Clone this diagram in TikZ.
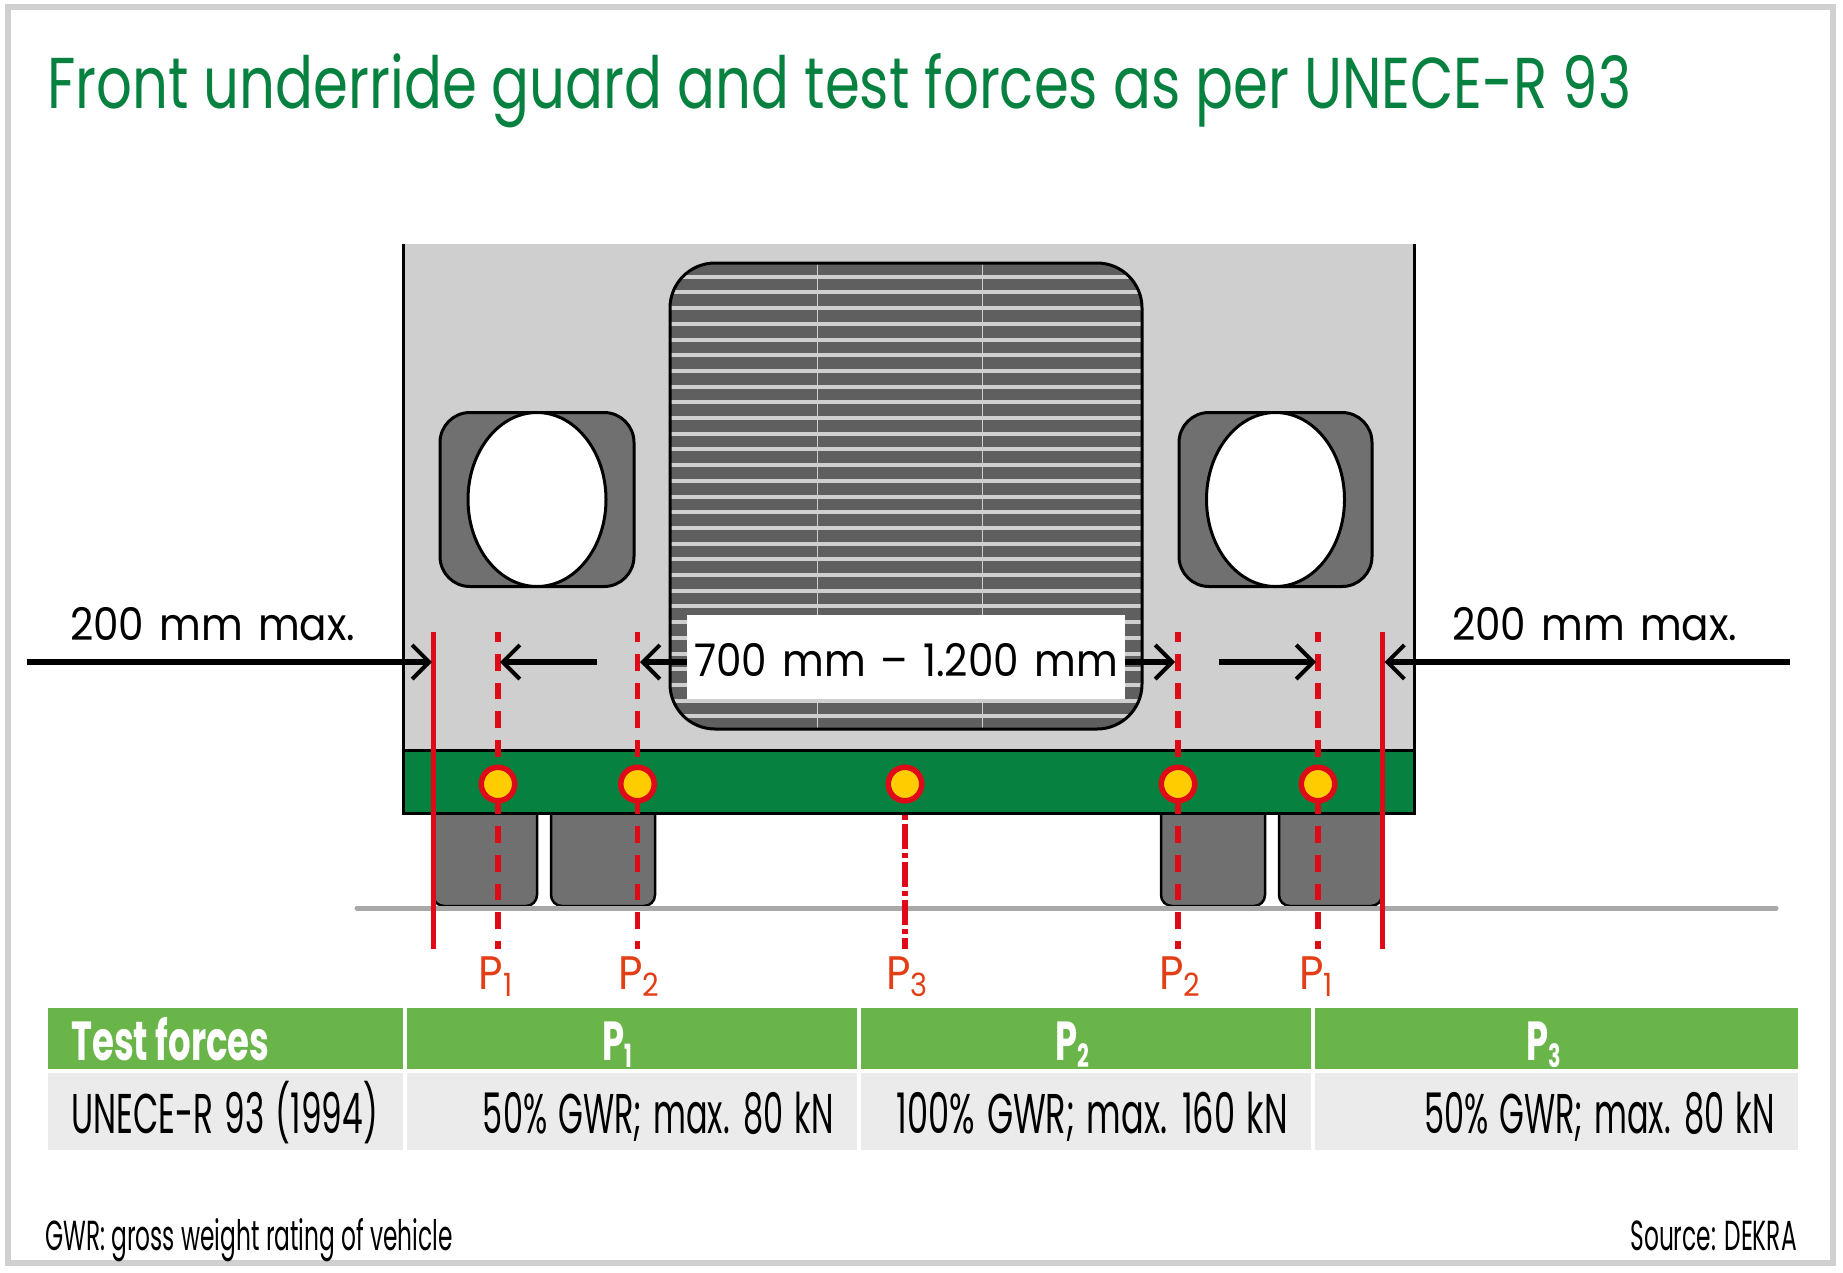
\documentclass[tikz,border=0pt]{standalone}
\usepackage{fontspec}
\usetikzlibrary{arrows.meta}
\setmainfont{Poppins}
\newfontfamily\dimfont[FakeStretch=0.9,WordSpace=1.4]{Poppins}
\newfontfamily\titlefont[FakeStretch=0.78]{Poppins}
\newfontfamily\headfont[FakeStretch=0.645]{Poppins}
\newfontfamily\rowfont[FakeStretch=0.6,WordSpace=1.3]{Poppins}
\newfontfamily\shortrowfont[FakeStretch=0.57,WordSpace=1.3]{Poppins}
\newfontfamily\firstrowfont[FakeStretch=0.585,WordSpace=1.3]{Poppins}
\newfontfamily\notefont[FakeStretch=0.555]{Poppins}
\definecolor{framegray}{HTML}{D0D0D0}
\definecolor{cabgray}{HTML}{CFCFCF}
\definecolor{grillegray}{HTML}{5F5F5F}
\definecolor{lampgray}{HTML}{707070}
\definecolor{bumpergreen}{HTML}{07813F}
\definecolor{headgreen}{HTML}{6AB54A}
\definecolor{rowgray}{HTML}{EBEBEB}
\definecolor{forcered}{HTML}{DF0A17}
\definecolor{forcetext}{HTML}{E23F16}
\definecolor{loadyellow}{HTML}{FFCC00}
\definecolor{groundgray}{HTML}{A8A8A8}
\newcommand{\forcelabel}[3]{{\fontsize{#1}{#1}\selectfont P\raisebox{-#2}{\fontsize{32}{32}\selectfont #3}}}
\tikzset{
  textlabel/.style={anchor=base west, inner sep=0pt},
  textright/.style={anchor=base east, inner sep=0pt},
  outline/.style={draw=black, line width=3pt},
  wheelbox/.style={draw=black, line width=2.5pt, fill=lampgray, rounded corners=11pt},
  lampbox/.style={outline, fill=lampgray, rounded corners=30pt},
  dimline/.style={line width=6pt, -{Straight Barb[length=17pt, width=34pt, line width=4pt]}},
  limitline/.style={draw=forcered, line width=5.4pt},
  forceline/.style={limitline, dash pattern=on 16.7pt off 12pt, dash phase=6.7pt},
  midline/.style={limitline, dash pattern=on 5pt off 4pt on 25pt off 4pt},
  loadpoint/.style={shape=circle, draw=forcered, fill=loadyellow, line width=5.5pt, minimum size=33.5pt, inner sep=0pt},
  headcell/.style={fill=headgreen},
  rowcell/.style={fill=rowgray}
}
\begin{document}
\begin{tikzpicture}[x=1pt, y=-1pt]
  \useasboundingbox (0,0) rectangle (1843,1272);
  \draw[framegray, line width=6pt] (7.5,7) rectangle (1833,1263);

  \node[textlabel, text=bumpergreen] (title) at (47,108) {\titlefont\fontsize{72}{72}\selectfont Front underride guard and test forces as per UNECE-R 93};

  \fill[cabgray] (403,244) rectangle (1414,750);
  \draw[black, line width=3pt] (403,244) -- (403,750);
  \draw[black, line width=3pt] (1414,244) -- (1414,750);

  \begin{scope}
    \clip[rounded corners=45pt] (670,263) rectangle (1142,729);
    \fill[grillegray] (670,263) rectangle (1142,729);
    \foreach \k in {0,...,28}
      \fill[cabgray] (670,{274.7+15.7*\k}) rectangle (1142,{278.7+15.7*\k});
    \draw[cabgray, line width=1pt] (817,263) -- (817,729);
    \draw[cabgray, line width=1pt] (982.5,263) -- (982.5,729);
  \end{scope}
  \draw[outline, rounded corners=45pt] (670,263) rectangle (1142,729);

  \draw[lampbox] (440,412.5) rectangle (634,586.5);
  \draw[outline, fill=white] (537,499.5) ellipse (69 and 87);
  \draw[lampbox] (1179,412.5) rectangle (1372,586.5);
  \draw[outline, fill=white] (1275.5,499.5) ellipse (69 and 87);

  \draw[wheelbox] (433,800) -- (433,906) -- (537,906) -- (537,800);
  \draw[wheelbox] (551,800) -- (551,906) -- (655,906) -- (655,800);
  \draw[wheelbox] (1161,800) -- (1161,906) -- (1265,906) -- (1265,800);
  \draw[wheelbox] (1279,800) -- (1279,906) -- (1382,906) -- (1382,800);

  \draw[draw=black, line width=3pt, fill=bumpergreen] (403,750) rectangle (1414.5,813);
  \draw[groundgray, line width=5pt, line cap=round] (357,908) -- (1776,908);

  \coordinate (limitLtop) at (433.5,632);
  \coordinate (limitLbot) at (433.5,949);
  \coordinate (limitRtop) at (1382.5,632);
  \coordinate (limitRbot) at (1382.5,949);
  \coordinate (pOneLtop) at (498,632);
  \coordinate (pOneLbot) at (498,949);
  \coordinate (pTwoLtop) at (637.5,632);
  \coordinate (pTwoLbot) at (637.5,949);
  \coordinate (pTwoRtop) at (1178,632);
  \coordinate (pTwoRbot) at (1178,949);
  \coordinate (pOneRtop) at (1318,632);
  \coordinate (pOneRbot) at (1318,949);
  \coordinate (pThreebot) at (905,949);

  \draw[limitline] (limitLtop) -- (limitLbot);
  \draw[limitline] (limitRtop) -- (limitRbot);
  \draw[forceline] (pOneLtop) -- (pOneLbot);
  \draw[forceline] (pTwoLtop) -- (pTwoLbot);
  \draw[forceline] (pTwoRtop) -- (pTwoRbot);
  \draw[forceline] (pOneRtop) -- (pOneRbot);

  \node[loadpoint] (PA) at (498,784) {};
  \node[loadpoint] (PB) at (637.5,784) {};
  \node[loadpoint] (PC) at (905,784) {};
  \node[loadpoint] (PD) at (1178,784) {};
  \node[loadpoint] (PE) at (1318,784) {};
  \coordinate (pThreetop) at (905,815);
  \draw[midline] (pThreetop) -- (pThreebot);

  \coordinate (dimLstart) at (27,662);
  \coordinate (dimLtip) at (432,662);
  \coordinate (dimRstart) at (1790,662);
  \coordinate (dimRtip) at (1384.5,662);
  \coordinate (gapOneLstart) at (597,662);
  \coordinate (gapOneLtip) at (500,662);
  \coordinate (gapOneRstart) at (1218.5,662);
  \coordinate (gapOneRtip) at (1316,662);

  \draw[dimline] (dimLstart) -- (dimLtip);
  \draw[dimline] (dimRstart) -- (dimRtip);
  \draw[dimline] (gapOneLstart) -- (gapOneLtip);
  \draw[dimline] (gapOneRstart) -- (gapOneRtip);

  \node[fill=white, minimum width=438pt, minimum height=84pt, inner sep=0pt] (span) at (906,657) {\raisebox{-19pt}[0pt][0pt]{\dimfont\fontsize{45}{45}\selectfont 700 mm – 1.200 mm}};
  \coordinate (spanL) at (687,662);
  \coordinate (spanR) at (1125,662);
  \coordinate (spanLtip) at (640,662);
  \coordinate (spanRtip) at (1175,662);
  \draw[dimline] (spanL) -- (spanLtip);
  \draw[dimline] (spanR) -- (spanRtip);

  \node[textlabel] (maxL) at (70,640) {\dimfont\fontsize{45}{45}\selectfont 200 mm max.};
  \node[textlabel] (maxR) at (1452,640) {\dimfont\fontsize{45}{45}\selectfont 200 mm max.};

  \node[textlabel, text=forcetext] (labA) at (478.5,989) {\dimfont\forcelabel{47}{7pt}{1}};
  \node[textlabel, text=forcetext] (labB) at (618,989) {\dimfont\forcelabel{47}{7pt}{2}};
  \node[textlabel, text=forcetext] (labC) at (886,989) {\dimfont\forcelabel{47}{7pt}{3}};
  \node[textlabel, text=forcetext] (labD) at (1159,989) {\dimfont\forcelabel{47}{7pt}{2}};
  \node[textlabel, text=forcetext] (labE) at (1299,989) {\dimfont\forcelabel{47}{7pt}{1}};

  \fill[headcell] (47.5,1008) rectangle (403,1069);
  \fill[headcell] (406.5,1008) rectangle (857,1069);
  \fill[headcell] (860.5,1008) rectangle (1311,1069);
  \fill[headcell] (1315,1008) rectangle (1798,1069);
  \fill[rowcell] (47.5,1073) rectangle (403,1150);
  \fill[rowcell] (406.5,1073) rectangle (857,1150);
  \fill[rowcell] (860.5,1073) rectangle (1311,1150);
  \fill[rowcell] (1315,1073) rectangle (1798,1150);

  \node[textlabel, text=white] (headA) at (71,1060) {\headfont\bfseries\fontsize{55}{55}\selectfont Test forces};
  \node[textlabel, text=white] (headB) at (602,1060) {\headfont\bfseries\forcelabel{55}{7pt}{1}};
  \node[textlabel, text=white] (headC) at (1055,1060) {\headfont\bfseries\forcelabel{55}{7pt}{2}};
  \node[textlabel, text=white] (headD) at (1526,1060) {\headfont\bfseries\forcelabel{55}{7pt}{3}};

  \node[textlabel] (rowA) at (71,1133) {\firstrowfont\fontsize{56}{56}\selectfont UNECE-R 93 (1994)};
  \node[textright] (rowB) at (834,1133) {\shortrowfont\fontsize{56}{56}\selectfont 50\% GWR; max. 80 kN};
  \node[textright] (rowC) at (1288,1133) {\rowfont\fontsize{56}{56}\selectfont 100\% GWR; max. 160 kN};
  \node[textright] (rowD) at (1775,1133) {\shortrowfont\fontsize{56}{56}\selectfont 50\% GWR; max. 80 kN};

  \node[textlabel] (noteL) at (45,1250) {\notefont\fontsize{42}{42}\selectfont GWR: gross weight rating of vehicle};
  \node[textright] (noteR) at (1797,1250) {\notefont\fontsize{42}{42}\selectfont Source: DEKRA};
\end{tikzpicture}
\end{document}
